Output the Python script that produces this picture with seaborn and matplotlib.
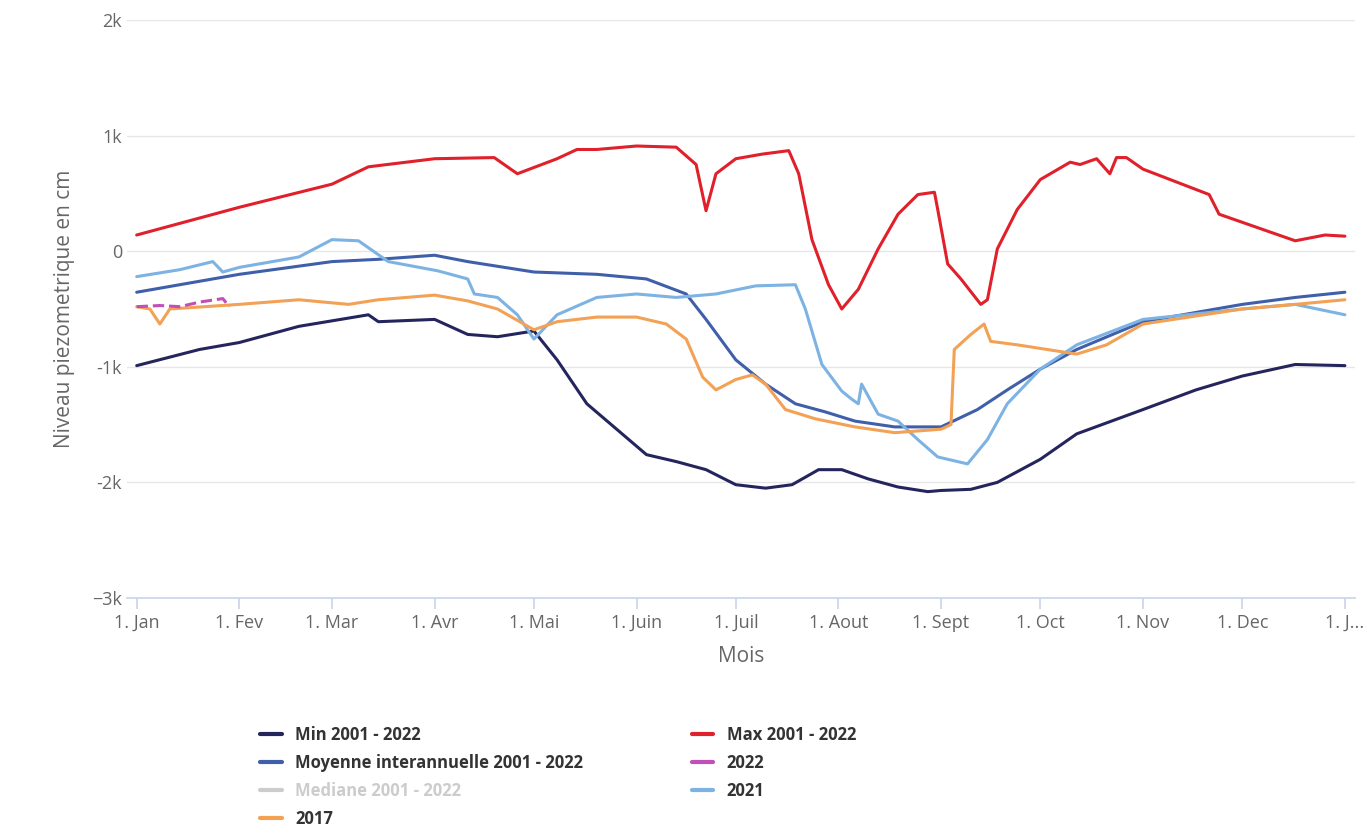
import matplotlib
matplotlib.use("Agg")
import matplotlib.pyplot as plt
import seaborn as sns
import pandas as pd

sns.set_theme(style="white")
plt.rcParams["font.family"] = ["Open Sans", "DejaVu Sans"]

month_days = [0, 31, 59, 90, 120, 151, 181, 212, 243, 273, 304, 334, 365]
month_labels = ["1. Jan", "1. Fev", "1. Mar", "1. Avr", "1. Mai", "1. Juin", "1. Juil",
                "1. Aout", "1. Sept", "1. Oct", "1. Nov", "1. Dec", "1. J..."]

max_days = [0, 31, 59, 70, 90, 108, 115, 127, 133, 139, 151, 163, 169, 172, 175, 181, 189, 197,
            200, 204, 209, 213, 218, 224, 230, 236, 241, 242, 245, 249, 255, 257, 260, 266, 273,
            282, 285, 290, 294, 296, 299, 304, 314, 324, 327, 333, 342, 350, 359, 365]
max_vals = [140, 380, 580, 730, 800, 810, 670, 800, 880, 880, 910, 900, 750, 350, 670, 800, 840, 870,
            670, 100, -290, -500, -330, 20, 320, 490, 510, 360, -110, -240, -460, -420, 20, 360, 620,
            770, 750, 800, 670, 810, 810, 710, 600, 490, 320, 260, 170, 90, 140, 130]

min_days = [0, 19, 31, 49, 70, 73, 90, 100, 109, 120, 127, 136, 145, 154, 163, 172, 181, 190,
            198, 206, 213, 221, 230, 239, 243, 252, 260, 273, 284, 304, 320, 334, 350, 365]
min_vals = [-990, -850, -790, -650, -550, -610, -590, -720, -740, -690, -940, -1320, -1540, -1760,
            -1820, -1890, -2020, -2050, -2020, -1890, -1890, -1970, -2040, -2080, -2070, -2060,
            -2000, -1800, -1580, -1370, -1200, -1080, -980, -990]

moy_days = [0, 31, 59, 73, 90, 100, 120, 139, 154, 166, 172, 181, 190, 199, 208, 217, 229, 243,
            254, 263, 273, 284, 304, 334, 350, 365]
moy_vals = [-355, -200, -90, -70, -35, -90, -180, -200, -240, -370, -590, -940, -1150, -1320, -1390,
            -1470, -1520, -1520, -1370, -1200, -1020, -850, -610, -460, -400, -355]

y2021_days = [0, 13, 23, 26, 31, 49, 59, 67, 76, 91, 100, 102, 109, 115, 120, 127, 139, 151, 163,
              175, 187, 199, 202, 207, 213, 216, 218, 219, 224, 230, 236, 242, 251, 257, 263, 273,
              284, 304, 334, 350, 365]
y2021_vals = [-220, -160, -90, -180, -140, -50, 100, 90, -90, -170, -240, -370, -400, -550, -760,
              -550, -400, -370, -400, -370, -300, -290, -500, -980, -1210, -1280, -1320, -1150,
              -1410, -1470, -1630, -1780, -1840, -1630, -1320, -1020, -810, -590, -500, -460, -550]

y2017_days = [0, 4, 7, 10, 31, 49, 64, 73, 90, 100, 109, 120, 127, 139, 151, 160, 166, 171, 175,
              181, 186, 190, 196, 205, 217, 229, 243, 246, 247, 252, 256, 258, 266, 275, 284, 293,
              304, 334, 350, 365]
y2017_vals = [-480, -500, -630, -500, -460, -420, -460, -420, -380, -430, -500, -680, -610, -570,
              -570, -630, -760, -1090, -1200, -1110, -1070, -1150, -1370, -1450, -1520, -1570,
              -1540, -1500, -850, -720, -630, -780, -810, -850, -890, -810, -630, -500, -460, -420]

y2022_days = [0, 7, 13, 19, 26, 28]
y2022_vals = [-480, -470, -480, -440, -410, -480]

fig = plt.figure(figsize=(13.63, 8.34), dpi=100)
ax = fig.add_axes([0.093, 0.283, 0.901, 0.693])

series = [
    ("Min 2001 - 2022", min_days, min_vals, "#25255e", "-"),
    ("Max 2001 - 2022", max_days, max_vals, "#e0202a", "-"),
    ("Moyenne interannuelle 2001 - 2022", moy_days, moy_vals, "#3f5faa", "-"),
    ("2021", y2021_days, y2021_vals, "#7db3e3", "-"),
    ("2017", y2017_days, y2017_vals, "#f2a155", "-"),
    ("2022", y2022_days, y2022_vals, "#c04fb8", "--"),
]
handles = {}
for name, d, v, c, ls in series:
    df = pd.DataFrame({"day": d, "val": v})
    sns.lineplot(data=df, x="day", y="val", ax=ax, color=c, linewidth=2.2, linestyle=ls,
                 estimator=None, sort=False, legend=False)
    handles[name] = ax.lines[-1]
med, = ax.plot([], [], color="#cccccc", linewidth=3)
handles["Mediane 2001 - 2022"] = med

ax.set_xlim(-3, 368)
ax.set_ylim(-3000, 2000)
ax.set_xticks(month_days)
ax.set_xticklabels(month_labels)
ax.set_yticks([2000, 1000, 0, -1000, -2000, -3000])
ax.set_yticklabels(["2k", "1k", "0", "-1k", "-2k", "−3k"])
ax.tick_params(axis="both", colors="#666666", labelsize=13, length=0)
ax.tick_params(axis="x", length=8, color="#ccd6eb", direction="out", bottom=True)
ax.grid(axis="y", color="#e6e6e6", linewidth=1)
for s in ["top", "right", "left"]:
    ax.spines[s].set_visible(False)
ax.spines["bottom"].set_color("#ccd6eb")
ax.set_xlabel("Mois", fontsize=15, color="#666666", labelpad=10)
ax.set_ylabel("Niveau piezometrique en cm", fontsize=15, color="#666666", labelpad=12)

order = ["Min 2001 - 2022", "Moyenne interannuelle 2001 - 2022", "Mediane 2001 - 2022", "2017",
         "Max 2001 - 2022", "2022", "2021"]
leg = fig.legend([handles[k] for k in order], order, ncol=2, loc="upper left",
                 bbox_to_anchor=(0.18, 0.148), frameon=False,
                 handlelength=1.3, columnspacing=6.5, labelspacing=0.6,
                 prop={"weight": "bold", "size": 12})
for t in leg.get_texts():
    t.set_color("#cccccc" if t.get_text().startswith("Mediane") else "#333333")
for h in leg.legend_handles:
    h.set_linewidth(3)
    h.set_linestyle("-")

fig.savefig("out.png", dpi=100)
